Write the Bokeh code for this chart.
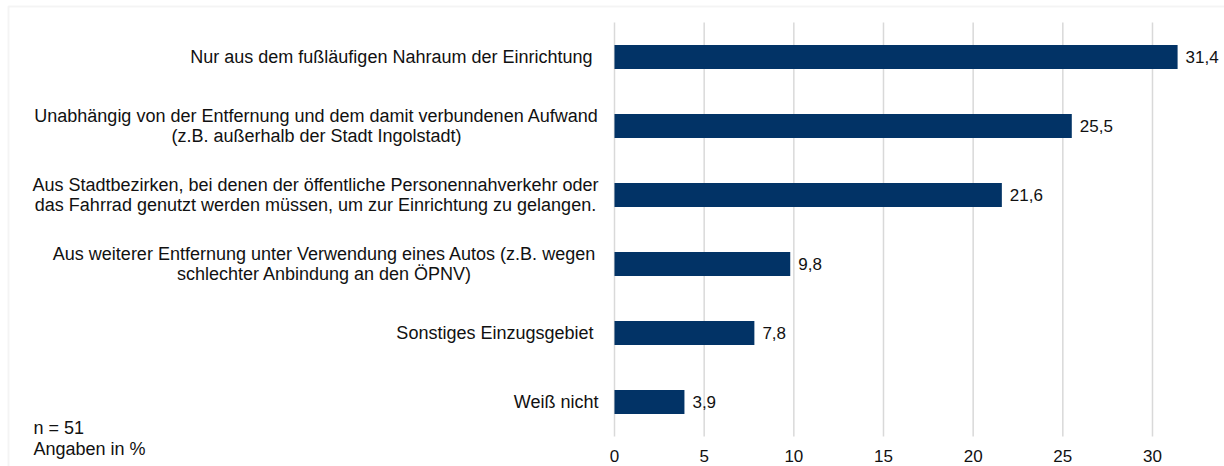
from bokeh.plotting import figure
from bokeh.models import Range1d, Label, ColumnDataSource, BoxAnnotation
from bokeh.core.properties import value
from bokeh.embed import file_html
from bokeh.resources import INLINE

# ---- data -------------------------------------------------------------
categories = [
    "Nur aus dem fußläufigen Nahraum der Einrichtung",
    "Unabhängig von der Entfernung und dem damit verbundenen Aufwand\n(z.B. außerhalb der Stadt Ingolstadt)",
    "Aus Stadtbezirken, bei denen der öffentliche Personennahverkehr oder\ndas Fahrrad genutzt werden müssen, um zur Einrichtung zu gelangen.",
    "Aus weiterer Entfernung unter Verwendung eines Autos (z.B. wegen\nschlechter Anbindung an den ÖPNV)",
    "Sonstiges Einzugsgebiet",
    "Weiß nicht",
]
values = [31.4, 25.5, 21.6, 9.8, 7.8, 3.9]
x_ticks = [0, 5, 10, 15, 20, 25, 30]
note_lines = ["n = 51", "Angaben in %"]

# ---- style / layout -----------------------------------------------------
FONT = "Liberation Sans"
BAR_COLOR = "#023366"
TEXT_COLOR = "#111111"
GRID_COLOR = "#d9d9d9"
W, H = 1224, 466
PX_PER_UNIT = 17.933      # horizontal px per value unit
ZERO_X = 614              # px position of value 0
ROW_PX = 69               # px per category row
BASE_Y = 436              # px position of the bottom of the category rows

# label placement (px): right edge for one-line labels, centre for two-line
label_right = [592, None, None, None, 593, 598]
label_centre = [None, 316, 315, 324, None, None]

n = len(categories)
ypos = [n - i - 0.5 for i in range(n)]          # row centres, top row first

x_range = Range1d((0 - ZERO_X) / PX_PER_UNIT, (W - ZERO_X) / PX_PER_UNIT)
y_range = Range1d((BASE_Y - H) / ROW_PX, BASE_Y / ROW_PX)

p = figure(width=W, height=H, x_range=x_range, y_range=y_range,
           output_backend="svg", toolbar_location=None,
           min_border=0, min_border_left=0, min_border_right=0,
           min_border_top=0, min_border_bottom=0)
p.outline_line_color = None
p.xaxis.visible = False
p.yaxis.visible = False
p.xgrid.grid_line_color = None
p.ygrid.grid_line_color = None
p.background_fill_color = "white"
p.border_fill_color = "white"

# chart-area border (top and left visible)
p.add_layout(BoxAnnotation(
    left=(8 - ZERO_X) / PX_PER_UNIT, right=x_range.end + 2,
    top=(BASE_Y - 6) / ROW_PX, bottom=y_range.start - 2,
    fill_alpha=0, line_color=GRID_COLOR, line_width=2))

# vertical grid lines at the ticks
p.segment(x0=x_ticks, x1=x_ticks, y0=[0] * len(x_ticks), y1=[n] * len(x_ticks),
          line_color=GRID_COLOR, line_width=1.5)

# tick labels
p.text(x=x_ticks, y=[0] * len(x_ticks), text=[str(t) for t in x_ticks],
       y_offset=19, text_align="center", text_baseline="middle",
       text_font=value(FONT), text_font_size="17px", text_color=TEXT_COLOR)

# bars
src = ColumnDataSource(dict(
    y=ypos, val=values,
    lab=[f"{v:.1f}".replace(".", ",") for v in values],
))
p.hbar(y="y", right="val", left=0, height=0.35, source=src,
       fill_color=BAR_COLOR, line_color=None)

# value labels
p.text(x="val", y="y", text="lab", source=src, x_offset=8,
       text_font=value(FONT), text_font_size="17px", text_color=TEXT_COLOR,
       text_align="left", text_baseline="middle")

# category labels
lx, ly, lt, lxo, lyo, la = [], [], [], [], [], []
for i, c in enumerate(categories):
    lines = c.split("\n")
    if len(lines) == 1:
        lx.append(0); ly.append(ypos[i]); lt.append(lines[0])
        lxo.append(label_right[i] - ZERO_X); lyo.append(0); la.append("right")
    else:
        k = len(lines)
        for j, ln in enumerate(lines):
            lx.append(0); ly.append(ypos[i]); lt.append(ln)
            lxo.append(label_centre[i] - ZERO_X)
            lyo.append((j - (k - 1) / 2) * 20)
            la.append("center")
lsrc = ColumnDataSource(dict(x=lx, y=ly, t=lt, xo=lxo, yo=lyo, a=la))
p.text(x="x", y="y", text="t", x_offset="xo", y_offset="yo", text_align="a",
       source=lsrc, text_font=value(FONT), text_font_size="18px",
       text_color=TEXT_COLOR, text_baseline="middle")

# note (sample size, unit)
note_x = (33 - ZERO_X) / PX_PER_UNIT
note_base = [427.7, 448.3]
for t, yb in zip(note_lines, note_base):
    p.add_layout(Label(x=note_x, y=(BASE_Y - yb) / ROW_PX, text=t,
                       text_font=FONT, text_font_size="18px",
                       text_color=TEXT_COLOR, text_baseline="alphabetic",
                       text_align="left"))

open("out.html", "w").write(file_html(p, INLINE))
